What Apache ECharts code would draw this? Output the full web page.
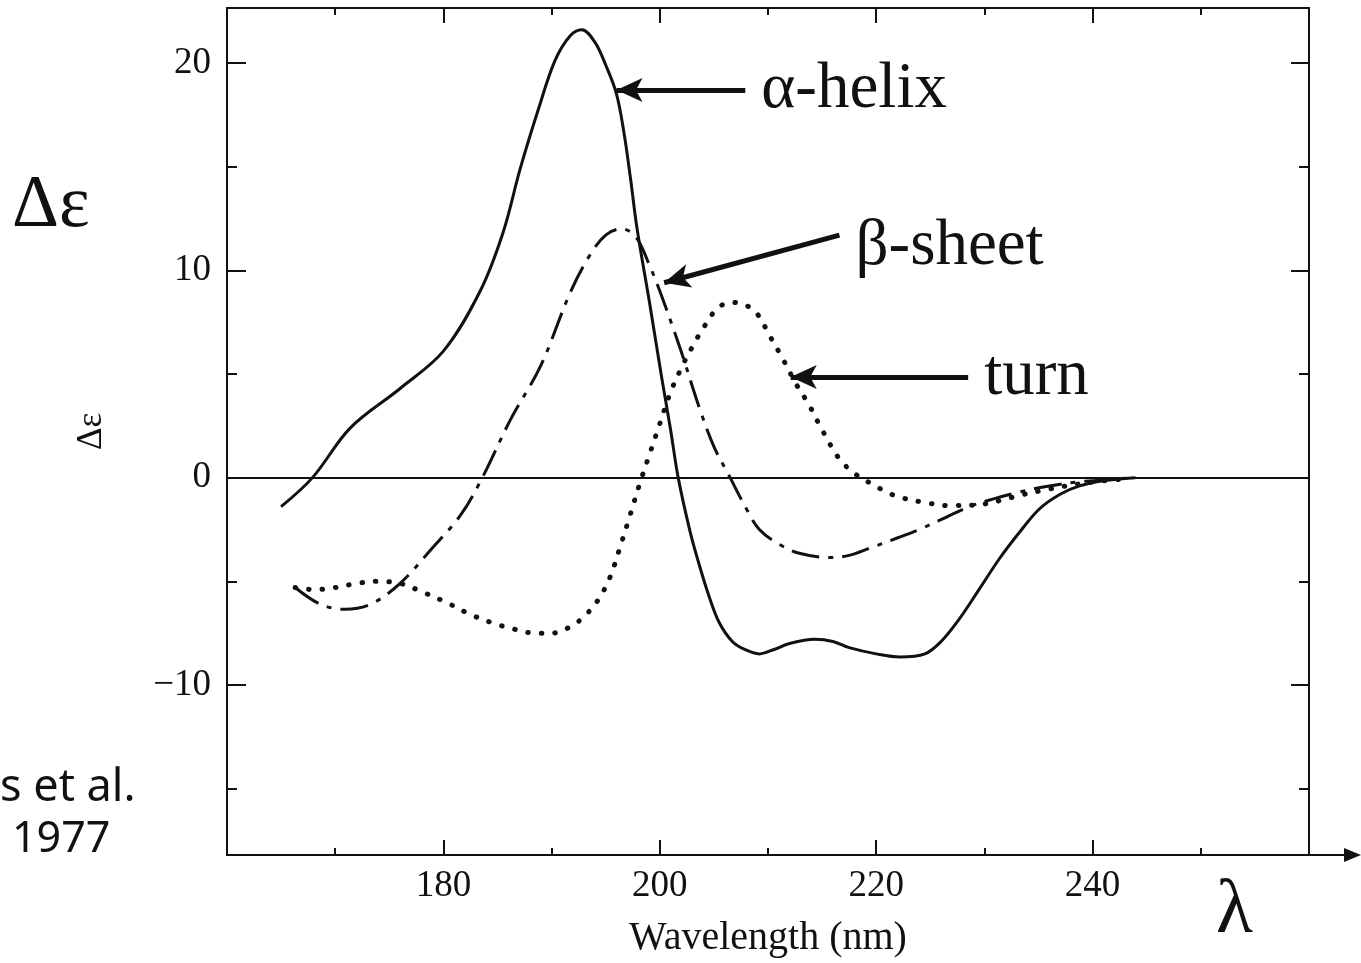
<!DOCTYPE html>
<html>
<head>
<meta charset="utf-8">
<title>CD spectra of secondary structures</title>
<script src="https://cdn.jsdelivr.net/npm/echarts@6/dist/echarts.min.js"></script>
<style>
  html, body { margin: 0; padding: 0; background: #ffffff; }
  #chart { width: 1361px; height: 963px; }
</style>
</head>
<body>
<div id="chart"></div>
<script>
// Wavelength (nm) and Δε for each reference spectrum
const helixX = [165.0, 167.9, 171.4, 176.0, 180.0, 183.4, 185.5, 187.1, 188.8, 190.3, 191.7, 192.8, 194.0, 195.0, 196.0, 196.7, 197.3, 197.9, 199.0, 200.2, 201.0, 201.7, 202.8, 203.7, 204.6, 205.5, 206.7, 207.9, 209.2, 210.5, 212.0, 214.3, 216.0, 217.5, 220.0, 222.2, 224.5, 226.0, 227.7, 229.5, 231.4, 233.3, 235.1, 237.0, 238.8, 241.0, 243.9];
const helixY = [-1.4, 0.0, 2.4, 4.3, 6.1, 9.0, 11.8, 14.9, 17.8, 20.1, 21.3, 21.6, 21.0, 19.9, 18.5, 16.6, 14.4, 12.0, 8.6, 4.75, 2.3, 0.0, -2.6, -4.3, -5.8, -7.0, -7.9, -8.3, -8.5, -8.3, -8.0, -7.8, -7.9, -8.2, -8.5, -8.65, -8.5, -7.9, -6.8, -5.4, -3.9, -2.6, -1.5, -0.8, -0.4, -0.15, 0.0];

const sheetX = [166.3, 168.6, 170.9, 173.3, 176.0, 178.8, 181.6, 183.6, 186.2, 189.0, 191.7, 193.5, 195.0, 196.5, 197.8, 199.0, 200.0, 201.9, 203.7, 205.0, 206.5, 208.0, 209.2, 211.0, 212.9, 215.7, 217.5, 219.4, 222.0, 224.0, 226.5, 228.6, 231.0, 233.2, 236.0, 238.8, 244.0];
const sheetY = [-5.3, -6.1, -6.35, -6.1, -5.1, -3.5, -1.8, 0.0, 2.8, 5.4, 8.9, 10.7, 11.7, 12.0, 11.6, 10.3, 9.0, 6.2, 3.3, 1.5, 0.0, -1.5, -2.5, -3.2, -3.65, -3.85, -3.75, -3.4, -2.9, -2.5, -1.9, -1.4, -1.0, -0.7, -0.4, -0.2, 0.0];

const turnX = [166.3, 168.0, 170.0, 172.0, 174.0, 176.0, 178.0, 180.4, 182.5, 184.5, 186.5, 188.5, 190.0, 191.7, 193.0, 194.3, 195.4, 196.3, 197.2, 198.2, 199.1, 200.0, 200.9, 202.0, 203.0, 204.0, 205.4, 206.7, 208.0, 209.0, 210.2, 211.4, 212.5, 213.8, 215.0, 216.6, 218.0, 219.4, 221.0, 222.2, 224.5, 226.8, 229.6, 231.5, 233.3, 236.0, 238.8, 241.0, 243.5];
const turnY = [-5.3, -5.4, -5.3, -5.1, -5.0, -5.1, -5.5, -6.05, -6.6, -7.0, -7.3, -7.5, -7.5, -7.2, -6.7, -5.9, -4.8, -3.4, -1.9, -0.2, 1.2, 2.6, 4.0, 5.3, 6.3, 7.2, 8.2, 8.45, 8.3, 7.9, 6.8, 5.7, 4.6, 3.5, 2.3, 0.9, 0.2, -0.25, -0.7, -0.95, -1.2, -1.35, -1.3, -1.1, -0.85, -0.55, -0.3, -0.15, -0.05];

// Axis ranges and tick values
const xRange = [160, 260];
const yRange = [-18.2, 22.65];
const yMajorTicks = [-10, 0, 10, 20];
const yMinorTicks = [-15, -5, 5, 15];

// Annotation arrows (tail -> head) and their captions
const arrowTails = [[207.9, 18.7], [216.6, 11.7], [228.5, 4.85]];
const arrowHeads = [[196.0, 18.7], [200.4, 9.4], [212.1, 4.85]];
const arrowCaptions = ['α-helix', 'β-sheet', 'turn'];

const INK = '#111111';
const SERIF = '"Liberation Serif", "Times New Roman", serif';

function pairs(xs, ys) { return xs.map((x, i) => [x, ys[i]]); }

function yAxisDef(pos, ticks, len, withLabels) {
  return {
    type: 'value', position: pos, min: yRange[0], max: yRange[1],
    axisLine: { show: withLabels !== null, lineStyle: { color: INK, width: 2 } },
    axisTick: { show: true, inside: true, length: len, customValues: ticks, lineStyle: { color: INK, width: 2 } },
    axisLabel: withLabels ? {
      show: true, customValues: ticks, margin: 16, color: INK, fontFamily: SERIF, fontSize: 37,
      formatter: v => (v < 0 ? '\u2212' + (-v) : String(v))
    } : { show: false },
    splitLine: { show: false }
  };
}

function xAxisDef(pos, withLabels) {
  return {
    type: 'value', position: pos, min: xRange[0], max: xRange[1], interval: 20,
    axisLine: { show: true, onZero: false, lineStyle: { color: INK, width: 2 } },
    axisTick: { show: true, inside: true, length: 15, lineStyle: { color: INK, width: 2 } },
    minorTick: { show: true, splitNumber: 2, length: 7, lineStyle: { color: INK, width: 2 } },
    axisLabel: withLabels ? {
      show: true, margin: 13, color: INK, fontFamily: SERIF, fontSize: 37,
      formatter: v => (v === xRange[0] || v === xRange[1]) ? '' : String(v)
    } : { show: false },
    splitLine: { show: false }
  };
}

const chart = echarts.init(document.getElementById('chart'), null, { renderer: 'canvas' });

const bottomAxis = xAxisDef('bottom', true);
bottomAxis.name = 'Wavelength (nm)';
bottomAxis.nameLocation = 'middle';
bottomAxis.nameGap = 63;
bottomAxis.nameTextStyle = { color: INK, fontFamily: SERIF, fontSize: 40 };

const leftAxis = yAxisDef('left', yMajorTicks, 19, true);
leftAxis.name = 'Δε';
leftAxis.nameLocation = 'middle';
leftAxis.nameRotate = 90;
leftAxis.nameGap = 118;
leftAxis.nameTextStyle = { color: INK, fontFamily: SERIF, fontSize: 35 };

const option = {
  animation: false,
  backgroundColor: '#ffffff',
  grid: { left: 227, right: 52, top: 8, bottom: 106, containLabel: false },
  xAxis: [bottomAxis, xAxisDef('top', false)],
  yAxis: [
    leftAxis,
    yAxisDef('left', yMinorTicks, 10, false),
    yAxisDef('right', yMajorTicks, 18, false),
    yAxisDef('right', yMinorTicks, 10, false)
  ],
  series: [
    {
      name: 'α-helix', type: 'line', data: pairs(helixX, helixY),
      smooth: 0.35, showSymbol: false, symbol: 'none',
      lineStyle: { color: INK, width: 3 },
      markLine: {
        silent: true, symbol: 'none',
        lineStyle: { color: INK, width: 2, type: 'solid' },
        label: { show: false },
        data: [{ yAxis: 0 }]
      },
      z: 3
    },
    {
      name: 'β-sheet', type: 'line', data: pairs(sheetX, sheetY),
      smooth: 0.35, showSymbol: false, symbol: 'none',
      lineStyle: { color: INK, width: 3, type: [28, 9, 5, 9] },
      z: 3
    },
    {
      name: 'turn', type: 'line', data: pairs(turnX, turnY),
      smooth: 0.35, showSymbol: false, symbol: 'none',
      lineStyle: { color: INK, width: 5, type: [0.5, 13], cap: 'round' },
      z: 3
    },
    {
      name: 'annotations', type: 'line', data: [],
      markLine: {
        silent: true, symbol: ['none', 'arrow'], symbolSize: [18, 26],
        lineStyle: { color: INK, width: 5, type: 'solid' },
        label: { show: false },
        data: arrowTails.map((t, i) => [{ coord: t }, { coord: arrowHeads[i] }])
      },
      markPoint: {
        silent: true, symbol: 'circle', symbolSize: 0,
        label: {
          show: true, position: 'right', distance: 16, formatter: '{b}',
          color: INK, fontFamily: SERIF, fontSize: 65
        },
        data: arrowTails.map((t, i) => ({
          name: arrowCaptions[i], coord: t,
          label: { offset: i === 1 ? [0, 12] : [0, 0] }
        }))
      }
    }
  ],
  graphic: [
    { type: 'text', left: 12, top: 170, style: { text: 'Δε', fill: INK, font: '73px ' + SERIF } },
    { type: 'text', left: 1216, top: 874, style: { text: 'λ', fill: INK, font: '76px ' + SERIF } },
    { type: 'text', left: 0, top: 766, style: { text: 's et al.', fill: INK, font: '45px "Noto Sans", sans-serif' } },
    { type: 'text', left: 12, top: 818, style: { text: '1977', fill: INK, font: '43px "Noto Sans", sans-serif' } }
  ]
};

chart.setOption(option);

// Extend the wavelength axis past the frame with an arrowhead
const corner = chart.convertToPixel({ xAxisIndex: 0, yAxisIndex: 0 }, [xRange[1], yRange[0]]);
chart.setOption({
  graphic: option.graphic.concat([
    { type: 'line', shape: { x1: corner[0], y1: corner[1], x2: 1346, y2: corner[1] }, style: { stroke: INK, lineWidth: 2 } },
    { type: 'polygon', shape: { points: [[1361, corner[1]], [1344, corner[1] - 7], [1344, corner[1] + 7]] }, style: { fill: INK } }
  ])
});
</script>
</body>
</html>
